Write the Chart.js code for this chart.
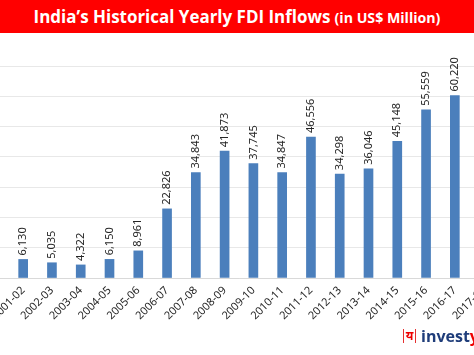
<!DOCTYPE html>
<html><head><meta charset="utf-8">
<script src="https://cdn.jsdelivr.net/npm/chart.js@4.4.0/dist/chart.umd.min.js"></script>
<style>
html,body{margin:0;padding:0;background:#fff;}
#wrap{position:relative;width:474px;height:355px;overflow:hidden;background:#fff;}
#chartBox{position:absolute;left:-20px;top:0;width:518px;height:355px;}
#title{position:absolute;left:0;top:0;width:474px;height:33px;background:#ff0000;color:#fff;font-family:'Open Sans',Lato,sans-serif;font-weight:bold;text-align:center;line-height:33px;white-space:nowrap;z-index:2;}
#title .big{font-size:19px}
#title .small{font-size:12px}
#logo{position:absolute;left:0;top:0;width:474px;height:355px;z-index:2;pointer-events:none;}
#logo .ic{position:absolute;left:403px;top:329px;width:11px;height:14px;border-left:1.5px solid #e53030;border-right:1.5px solid #e53030;color:#e00;font-size:12px;line-height:14px;text-align:center;font-family:'Noto Sans',sans-serif;font-weight:bold;}
#logo .txt{position:absolute;left:421px;top:326px;white-space:nowrap;font-family:'Open Sans',Lato,sans-serif;font-weight:bold;font-size:16px;line-height:20px;}
#logo .inv{color:#1f3d7a;}
#logo .ya{color:#e00;}
</style></head>
<body>
<div id="wrap">
  <div id="title"><span class="big" id="tBig">India’s Historical Yearly FDI Inflows</span> <span class="small" id="tSmall">(in US$ Million)</span></div>
  <div id="chartBox"><canvas id="c" width="518" height="355"></canvas></div>
  <div id="logo"><span class="ic">य</span><span class="txt"><span class="inv">invest</span><span class="ya">yadnya</span></span></div>
</div>
<script>
const categories = ['2000-01','2001-02','2002-03','2003-04','2004-05','2005-06','2006-07','2007-08','2008-09','2009-10','2010-11','2011-12','2012-13','2013-14','2014-15','2015-16','2016-17','2017-18'];
const fdiInflows = [null,6130,5035,4322,6150,8961,22826,34843,41873,37745,34847,46556,34298,36046,45148,55559,60220,null];
const yMin = 0;
const yMax = 70000;
const yStep = 10000;

// fit title font sizes to the reference text widths
(function fitTitle(){
  const m = document.createElement('canvas').getContext('2d');
  function fit(el, target){
    m.font = 'bold 20px "Open Sans"';
    const w = m.measureText(el.textContent).width;
    el.style.fontSize = (20 * target / w).toFixed(2) + 'px';
  }
  fit(document.getElementById('tBig'), 297);
  fit(document.getElementById('tSmall'), 106);
})();

const valueLabels = {
  id: 'valueLabels',
  afterDatasetsDraw(chart) {
    const ctx = chart.ctx;
    const meta = chart.getDatasetMeta(0);
    ctx.save();
    ctx.fillStyle = '#262626';
    ctx.font = '11px "Noto Sans", sans-serif';
    ctx.textAlign = 'left';
    ctx.textBaseline = 'middle';
    meta.data.forEach((bar, i) => {
      const v = fdiInflows[i];
      if (v === null || v === undefined) return;
      ctx.save();
      ctx.translate(bar.x, bar.y - 4);
      ctx.rotate(-Math.PI / 2);
      ctx.fillText(v.toLocaleString('en-US'), 0, 0);
      ctx.restore();
    });
    ctx.restore();
  }
};

new Chart(document.getElementById('c'), {
  type: 'bar',
  data: {
    labels: categories,
    datasets: [{
      data: fdiInflows,
      backgroundColor: '#4b7fbc',
      barThickness: 9
    }]
  },
  options: {
    responsive: false,
    devicePixelRatio: 1,
    animation: false,
    layout: { padding: { top: 66, left: 0, right: 0, bottom: 0 } },
    plugins: { legend: { display: false }, tooltip: { enabled: false }, title: { display: false } },
    scales: {
      x: {
        grid: { display: false, drawTicks: false },
        border: { display: true, color: '#d9d9d9' },
        ticks: {
          minRotation: 45, maxRotation: 45, autoSkip: false, padding: 6,
          color: '#262626', font: { family: '"Noto Sans", sans-serif', size: 11 }
        },
        afterFit(s) { s.paddingLeft = 0; s.paddingRight = 0; s.height = 77; }
      },
      y: {
        min: yMin, max: yMax,
        ticks: { display: false, stepSize: yStep },
        grid: { color: '#e8e8e8', drawTicks: false },
        border: { display: false },
        afterFit(s) { s.width = 0; s.paddingTop = 0; s.paddingBottom = 0; }
      }
    }
  },
  plugins: [valueLabels]
});
</script>
</body></html>
